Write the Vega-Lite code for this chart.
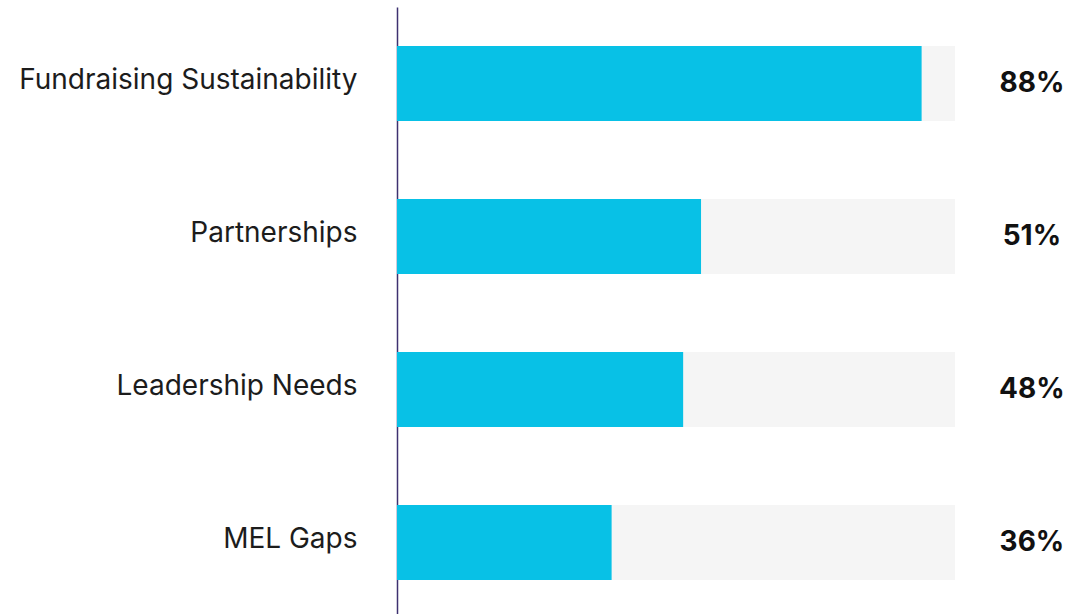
{
  "$schema": "https://vega.github.io/schema/vega-lite/v6.json",
  "width": 558,
  "height": 612,
  "autosize": {"type": "none"},
  "padding": {"left": 397, "top": 7, "right": 116, "bottom": 0},
  "background": "white",
  "config": {"view": {"stroke": null}},
  "data": {
    "values": [
      {"area": "Fundraising Sustainability", "pct": 88},
      {"area": "Partnerships", "pct": 51},
      {"area": "Leadership Needs", "pct": 48},
      {"area": "MEL Gaps", "pct": 36}
    ]
  },
  "encoding": {
    "y": {
      "field": "area",
      "type": "nominal",
      "sort": null,
      "scale": {"paddingInner": 0, "paddingOuter": 0},
      "axis": {
        "title": null,
        "ticks": false,
        "labelFont": "Inter",
        "labelFontSize": 28,
        "labelColor": "#1c1c1c",
        "labelPadding": 40,
        "labelOffset": -3,
        "labelLimit": 400,
        "domainColor": "#3d3170",
        "domainWidth": 1.5
      }
    }
  },
  "layer": [
    {
      "mark": {"type": "bar", "color": "#f5f5f5", "size": 75},
      "encoding": {
        "x": {"value": 0},
        "x2": {"value": {"expr": "width"}}
      }
    },
    {
      "mark": {"type": "bar", "color": "#08c1e6", "size": 75},
      "encoding": {
        "x": {
          "field": "pct",
          "type": "quantitative",
          "scale": {"domain": [0, 93.6], "nice": false},
          "axis": null
        }
      }
    },
    {
      "mark": {
        "type": "text",
        "font": "Inter",
        "fontSize": 28,
        "fontWeight": "bold",
        "color": "#111111",
        "align": "center",
        "baseline": "middle",
        "clip": false,
        "text": {"expr": "datum.pct + '%'"}
      },
      "encoding": {
        "x": {"datum": 106.5, "type": "quantitative"},
        "detail": {"field": "pct"}
      }
    }
  ]
}
